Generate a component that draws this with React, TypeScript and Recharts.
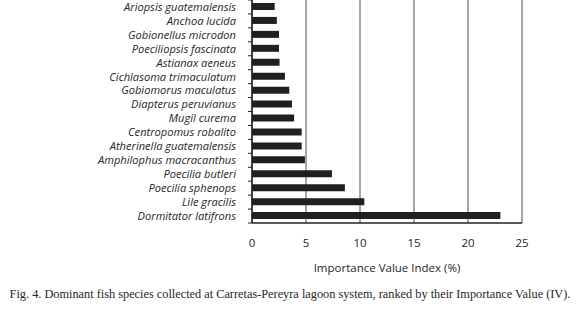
import React from 'react';
import { BarChart, Bar, XAxis, YAxis, CartesianGrid } from 'recharts';

const species = [
  'Ariopsis guatemalensis',
  'Anchoa lucida',
  'Gobionellus microdon',
  'Poeciliopsis fascinata',
  'Astianax aeneus',
  'Cichlasoma trimaculatum',
  'Gobiomorus maculatus',
  'Diapterus peruvianus',
  'Mugil curema',
  'Centropomus robalito',
  'Atherinella guatemalensis',
  'Amphilophus macracanthus',
  'Poecilia butleri',
  'Poecilia sphenops',
  'Lile gracilis',
  'Dormitator latifrons',
];

const ivi = [2.1, 2.3, 2.5, 2.5, 2.55, 3.05, 3.45, 3.7, 3.9, 4.6, 4.6, 4.9, 7.4, 8.6, 10.4, 23.0];

const xTicks = [0, 5, 10, 15, 20, 25];

const xLabel = 'Importance Value Index (%)';
const caption =
  'Fig. 4. Dominant fish species collected at Carretas-Pereyra lagoon system, ranked by their Importance Value (IV).';

const data = species.map((name, i) => ({ name, value: ivi[i] }));

const W = 580;
const H = 309;
const MARGIN = { top: 0, right: 58, bottom: 36, left: 0 };
const XAXIS_H = 50;
const YAXIS_W = 252;
const PLOT_H = H - MARGIN.top - MARGIN.bottom - XAXIS_H;
const BAND = PLOT_H / species.length;

const textColor = '#262626';
const sansFont = '"Open Sans", "DejaVu Sans", sans-serif';

const SpeciesTick = (props: any) => {
  const { x, y, payload, index } = props;
  const axisX = x + 16;
  return (
    <g>
      <line x1={axisX - 4} x2={axisX} y1={y - BAND / 2} y2={y - BAND / 2} stroke="#231f20" strokeWidth={1} />
      {index === species.length - 1 && (
        <line x1={axisX - 4} x2={axisX} y1={y + BAND / 2} y2={y + BAND / 2} stroke="#231f20" strokeWidth={1} />
      )}
      <text
        x={x}
        y={y}
        dy="0.35em"
        textAnchor="end"
        fontFamily={sansFont}
        fontStyle="italic"
        fontSize={11.1}
        fill={textColor}
      >
        {payload.value}
      </text>
    </g>
  );
};

export default function App() {
  return (
    <div style={{ position: 'absolute', left: 0, top: 0, width: W, height: H, background: '#fff' }}>
      <BarChart
        width={W}
        height={H}
        data={data}
        layout="vertical"
        margin={MARGIN}
        barSize={7}
      >
        <CartesianGrid horizontal={false} vertical={true} stroke="#8a8a8a" strokeWidth={1.5} />
        <XAxis
          type="number"
          domain={[0, 25]}
          ticks={xTicks}
          height={XAXIS_H}
          tickLine={false}
          tickSize={0}
          tickMargin={16}
          axisLine={{ stroke: '#231f20', strokeWidth: 1.5 }}
          tick={{ fontFamily: sansFont, fontSize: 11.5, fill: textColor }}
          label={{
            value: xLabel,
            position: 'insideBottom',
            offset: 1,
            style: { fontFamily: sansFont, fontSize: 11.5, fill: textColor },
          }}
        />
        <YAxis
          type="category"
          dataKey="name"
          width={YAXIS_W}
          tickLine={false}
          tickSize={0}
          tickMargin={16}
          interval={0}
          axisLine={{ stroke: '#231f20', strokeWidth: 1.5 }}
          tick={<SpeciesTick />}
        />
        <Bar dataKey="value" fill="#231f20" isAnimationActive={false} />
      </BarChart>
      <div
        style={{
          position: 'absolute',
          left: 0,
          top: 287,
          width: W,
          textAlign: 'center',
          fontFamily: '"Liberation Serif", "Times New Roman", serif',
          fontSize: 12.3,
          color: textColor,
          whiteSpace: 'nowrap',
        }}
      >
        {caption}
      </div>
    </div>
  );
}
